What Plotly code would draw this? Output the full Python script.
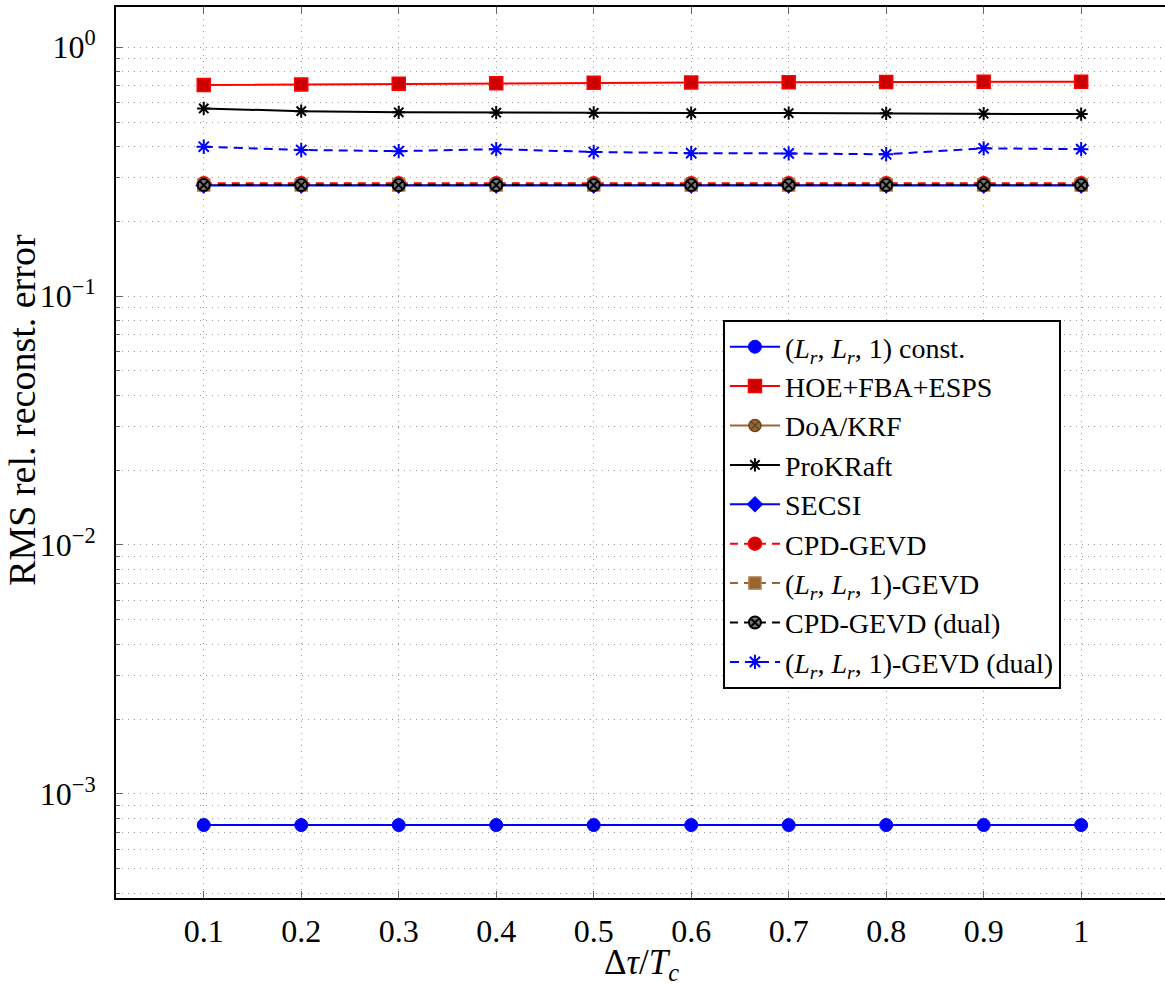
import plotly.graph_objects as go

# ---- data -------------------------------------------------------------
dtau = [0.1, 0.2, 0.3, 0.4, 0.5, 0.6, 0.7, 0.8, 0.9, 1.0]

lr_const      = [7.5e-4, 7.5e-4, 7.5e-4, 7.5e-4, 7.5e-4, 7.5e-4, 7.5e-4, 7.5e-4, 7.5e-4, 7.5e-4]
hoe_fba_esps  = [0.704, 0.708, 0.712, 0.716, 0.719, 0.721, 0.723, 0.724, 0.725, 0.726]
doa_krf       = [0.279, 0.279, 0.279, 0.279, 0.279, 0.279, 0.279, 0.279, 0.279, 0.279]
prokraft      = [0.567, 0.553, 0.547, 0.545, 0.544, 0.543, 0.543, 0.542, 0.540, 0.538]
secsi         = [0.278, 0.278, 0.278, 0.278, 0.278, 0.278, 0.278, 0.278, 0.278, 0.278]
cpd_gevd      = [0.284, 0.284, 0.284, 0.284, 0.284, 0.284, 0.284, 0.284, 0.284, 0.284]
lr_gevd       = [0.279, 0.279, 0.279, 0.279, 0.279, 0.279, 0.279, 0.279, 0.279, 0.279]
cpd_gevd_dual = [0.279, 0.279, 0.279, 0.279, 0.279, 0.279, 0.279, 0.279, 0.279, 0.279]
lr_gevd_dual  = [0.398, 0.386, 0.382, 0.389, 0.379, 0.375, 0.374, 0.371, 0.392, 0.389]

x_ticks = [0.1, 0.2, 0.3, 0.4, 0.5, 0.6, 0.7, 0.8, 0.9, 1.0]
x_tick_labels = ["0.1", "0.2", "0.3", "0.4", "0.5", "0.6", "0.7", "0.8", "0.9", "1"]
y_ticks = [1e-3, 1e-2, 1e-1, 1e0]
y_tick_labels = ["10<sup>−3</sup>", "10<sup>−2</sup>", "10<sup>−1</sup>", "10<sup>0</sup>"]

LR = "(<i>L<sub>r</sub></i>, <i>L<sub>r</sub></i>, 1)"
names = [
    LR + " const.",
    "HOE+FBA+ESPS",
    "DoA/KRF",
    "ProKRaft",
    "SECSI",
    "CPD-GEVD",
    LR + "-GEVD",
    "CPD-GEVD (dual)",
    LR + "-GEVD (dual)",
]

# ---- styles -----------------------------------------------------------
BLUE = "#0000ff"
RED = "#ff0000"
DARKRED = "#cc0000"
BROWN = "#996633"
BLACK = "#000000"
FONT = "Liberation Serif"
DASH = "8px,6px"

series = [
    (lr_const,      dict(color=BLUE, width=2, dash="solid"),
                    dict(symbol="circle", size=13, color=BLUE, line=dict(color=BLUE, width=1))),
    (hoe_fba_esps,  dict(color=RED, width=2, dash="solid"),
                    dict(symbol="square", size=13, color=DARKRED, line=dict(color=RED, width=1.5))),
    (doa_krf,       dict(color=BROWN, width=2, dash="solid"),
                    dict(symbol="circle-x", size=12, color=BROWN, line=dict(color="#6b4420", width=1.5))),
    (prokraft,      dict(color=BLACK, width=2, dash="solid"),
                    dict(symbol="asterisk-open", size=11, color=BLACK, line=dict(color=BLACK, width=2))),
    (secsi,         dict(color=BLUE, width=2, dash="solid"),
                    dict(symbol="diamond", size=12, color=BLUE, line=dict(color=BLUE, width=1))),
    (cpd_gevd,      dict(color=RED, width=2, dash=DASH),
                    dict(symbol="circle", size=13, color=DARKRED, line=dict(color=RED, width=1.5))),
    (lr_gevd,       dict(color=BROWN, width=2, dash=DASH),
                    dict(symbol="square", size=12, color=BROWN, line=dict(color="#b07a45", width=1.5))),
    (cpd_gevd_dual, dict(color=BLACK, width=2, dash=DASH),
                    dict(symbol="circle-x", size=12, color="#777777", line=dict(color=BLACK, width=2))),
    (lr_gevd_dual,  dict(color=BLUE, width=2, dash="9px,6px"),
                    dict(symbol="asterisk-open", size=12, color=BLUE, line=dict(color=BLUE, width=2))),
]

fig = go.Figure()
for name, (vals, line, marker) in zip(names, series):
    fig.add_trace(go.Scatter(x=dtau, y=vals, mode="lines+markers", name=name,
                             line=line, marker=marker))

# ---- axes -------------------------------------------------------------
GRID = "#9a9a9a"
GRID_DASH = "1px,5px"
minor_y = [m * 10.0 ** e for e in (-4, -3, -2, -1, 0) for m in range(2, 10)]

fig.update_xaxes(
    range=[0.01, 1.086],
    tickvals=x_ticks, ticktext=x_tick_labels,
    ticks="inside", ticklen=7, tickwidth=1, tickcolor="#666666",
    showline=True, linecolor=BLACK, linewidth=2, mirror="ticks",
    showgrid=True, gridcolor=GRID, griddash=GRID_DASH, gridwidth=1,
    zeroline=False,
    tickfont=dict(family=FONT, size=32, color=BLACK),
    ticklabelstandoff=4,
)
fig.update_yaxes(
    type="log",
    range=[-3.418, 0.161],
    tickvals=y_ticks, ticktext=y_tick_labels,
    ticks="inside", ticklen=7, tickwidth=1, tickcolor="#666666",
    showline=True, linecolor=BLACK, linewidth=2, mirror=False,
    showgrid=True, gridcolor=GRID, griddash=GRID_DASH, gridwidth=1,
    minor=dict(tickvals=minor_y, ticks="inside", ticklen=4, tickcolor="#666666",
               showgrid=True, gridcolor=GRID, griddash=GRID_DASH, gridwidth=1),
    zeroline=False,
    tickfont=dict(family=FONT, size=32, color=BLACK),
    ticklabelstandoff=12,
)

fig.add_annotation(text="RMS rel. reconst. error", xref="paper", yref="paper",
                   x=-0.0895, y=0.548, xanchor="center", yanchor="middle",
                   textangle=-90, showarrow=False,
                   font=dict(family=FONT, size=38, color=BLACK))
fig.add_annotation(text="Δ<i>τ</i>/<i>T<sub>c</sub></i>", xref="paper", yref="paper",
                   x=0.5014, y=-0.075, xanchor="center", yanchor="middle",
                   showarrow=False,
                   font=dict(family=FONT, size=35, color=BLACK))

fig.update_layout(
    width=1165, height=985,
    margin=dict(l=116, r=0, t=7, b=87),
    paper_bgcolor="white", plot_bgcolor="white",
    font=dict(family=FONT, color=BLACK),
    legend=dict(
        x=0.5786, y=0.6487, xanchor="left", yanchor="top",
        bgcolor="white", bordercolor=BLACK, borderwidth=2,
        font=dict(family=FONT, size=28, color=BLACK),
        itemwidth=50, tracegroupgap=0,
    ),
)

fig.write_html("out.html")
